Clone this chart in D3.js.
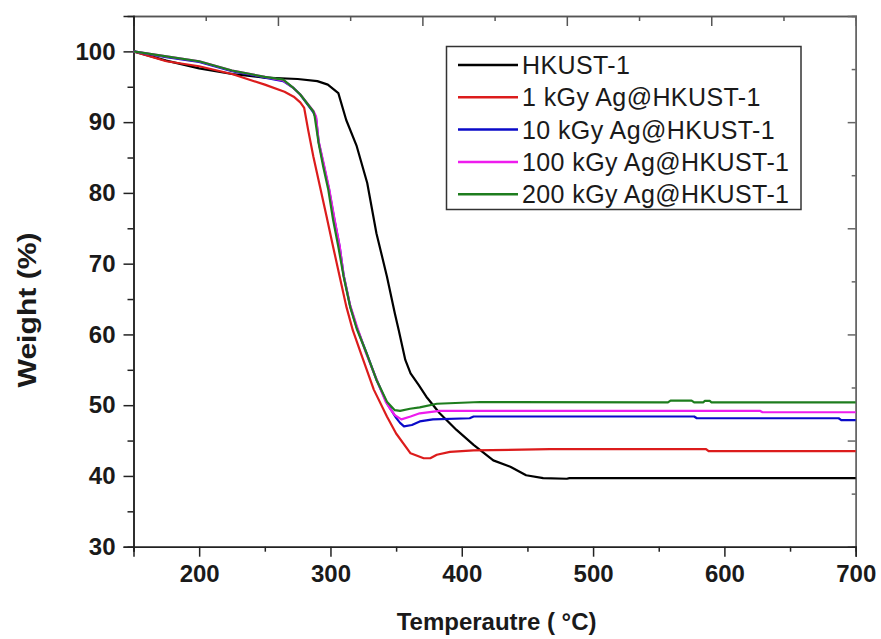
<!DOCTYPE html>
<html>
<head>
<meta charset="utf-8">
<script src="https://cdn.jsdelivr.net/npm/d3@7"></script>
<style>
  body { margin: 0; background: #fff; }
  text { font-family: "Liberation Sans", Arial, sans-serif; fill: #1a1a1a; }
</style>
</head>
<body>
<script>
// TGA curves, temperature (°C) vs weight (%)
const hkust = [[150,100],[175,98.7],[200,97.6],[225,96.8],[250,96.3],[275,96.1],[290,95.8],[298,95.3],[306,94.1],[312,90.3],[320,86.6],[328,81.4],[335,74.3],[343,68.2],[349,63.0],[352,60.6],[357,56.4],[361,54.5],[367,52.9],[373,51.2],[383,48.9],[396,46.5],[409,44.4],[424,42.2],[437,41.3],[449,40.1],[462,39.7],[480,39.6],[482,39.7],[700,39.7]];
const ag1 = [[150,100],[175,98.6],[200,97.9],[225,96.8],[250,95.3],[265,94.3],[272,93.6],[277,92.8],[280,92.0],[283,88.9],[287,85.1],[292,80.9],[297,76.7],[302,72.4],[307,68.2],[312,64.0],[317,60.6],[324,56.9],[333,52.2],[343,48.4],[350,46.0],[361,43.2],[371,42.5],[376,42.5],[381,43.0],[391,43.4],[409,43.6],[467,43.8],[586,43.8],[588,43.5],[700,43.5]];
const ag10 = [[150,100],[175,99.2],[200,98.5],[225,97.2],[250,96.3],[264,95.8],[272,94.8],[277,93.9],[287,91.4],[289,90.6],[291,87.2],[295,83.8],[299,80.4],[303,76.2],[307,72.4],[310,68.4],[315,64.0],[320,61.0],[328,57.1],[335,53.6],[343,50.3],[350,48.2],[353,47.5],[356,47.0],[362,47.2],[368,47.7],[378,48.0],[406,48.15],[409,48.4],[577,48.4],[579,48.15],[687,48.15],[689,47.9],[700,47.9]];
const ag100 = [[150,100],[175,99.3],[200,98.6],[225,97.3],[250,96.4],[264,95.9],[272,94.8],[277,93.9],[287,91.6],[289,90.8],[291,87.3],[295,84.0],[299,80.6],[303,76.4],[307,72.5],[310,68.4],[315,64.1],[320,61.2],[327,57.4],[335,53.7],[342,50.5],[345,49.6],[349,48.6],[354,48.0],[361,48.4],[368,48.85],[383,49.2],[627,49.2],[629,49.0],[700,49.0]];
const ag200 = [[150,100],[175,99.3],[200,98.6],[225,97.3],[250,96.4],[264,96.0],[272,94.8],[277,93.9],[287,91.5],[288,90.8],[291,87.0],[294.5,83.7],[298.4,80.4],[302,76.2],[306,72.4],[310,68.2],[315,63.9],[320,60.8],[327.6,57.3],[335,53.6],[343,50.5],[349,49.3],[353,49.2],[360.6,49.5],[368,49.7],[381,50.2],[414,50.45],[557,50.4],[559,50.65],[575,50.65],[577,50.4],[584,50.4],[585,50.6],[589,50.6],[590,50.4],[700,50.4]];

const seriesNames = ["HKUST-1", "1 kGy Ag@HKUST-1", "10 kGy Ag@HKUST-1", "100 kGy Ag@HKUST-1", "200 kGy Ag@HKUST-1"];
const seriesData = [hkust, ag1, ag10, ag100, ag200];
const seriesColors = ["#000000", "#dc1c1c", "#0a0ac8", "#ee1cee", "#1e7d1e"];

const xMajor = [200, 300, 400, 500, 600, 700];
const xMinor = [150, 250, 350, 450, 550, 650];
const yMajor = [30, 40, 50, 60, 70, 80, 90, 100];
const yMinor = [35, 45, 55, 65, 75, 85, 95];
const topMajor = [260, 370, 480, 590];
const topMinor = [205, 315, 425, 535, 645];
const rightMajor = [45, 60, 75, 90];
const rightMinor = [37.5, 52.5, 67.5, 82.5, 97.5];

const W = 881, H = 639;
const m = { left: 133.5, right: 855.7, top: 16, bottom: 546.7 };

const svg = d3.select("body").append("svg").attr("width", W).attr("height", H);

const x = d3.scaleLinear().domain([150, 700]).range([m.left, m.right]);
const y = d3.scaleLinear().domain([30, 105]).range([m.bottom, m.top]);

const styleAxis = (g, col) => {
    g.select(".domain").attr("stroke", col).attr("stroke-width", 1.5);
    g.selectAll(".tick line").attr("stroke", col).attr("stroke-width", 1.5);
    g.selectAll(".tick text").attr("font-size", 24).attr("font-weight", "bold")
        .attr("font-family", "'Liberation Sans', Arial, sans-serif").attr("fill", "#1a1a1a");
};

// frame: top and right (inward ticks, lighter)
svg.append("g").attr("transform", `translate(0,${m.top})`)
    .call(d3.axisTop(x).tickValues(topMajor).tickSize(-10).tickFormat(""))
    .call(g => styleAxis(g, "#555"));
svg.append("g").attr("transform", `translate(0,${m.top})`)
    .call(d3.axisTop(x).tickValues(topMinor).tickSize(-5).tickFormat(""))
    .call(g => styleAxis(g, "#555"));
svg.append("g").attr("transform", `translate(${m.right},0)`)
    .call(d3.axisRight(y).tickValues(rightMajor).tickSize(-8).tickFormat(""))
    .call(g => styleAxis(g, "#666"));
svg.append("g").attr("transform", `translate(${m.right},0)`)
    .call(d3.axisRight(y).tickValues(rightMinor).tickSize(-4).tickFormat(""))
    .call(g => styleAxis(g, "#666"));

// bottom / left
svg.append("g").attr("transform", `translate(0,${m.bottom})`)
    .call(d3.axisBottom(x).tickValues(xMinor).tickSize(5).tickFormat(""))
    .call(g => styleAxis(g, "#222"));
svg.append("g").attr("transform", `translate(0,${m.bottom})`)
    .call(d3.axisBottom(x).tickValues(xMajor).tickSize(10).tickPadding(8).tickFormat(d3.format("d")))
    .call(g => styleAxis(g, "#222"));
svg.append("g").attr("transform", `translate(${m.left},0)`)
    .call(d3.axisLeft(y).tickValues(yMinor).tickSize(6).tickFormat(""))
    .call(g => styleAxis(g, "#222"));
svg.append("g").attr("transform", `translate(${m.left},0)`)
    .call(d3.axisLeft(y).tickValues(yMajor).tickSize(10).tickPadding(8).tickFormat(d3.format("d")))
    .call(g => styleAxis(g, "#222"));

// curves
const line = d3.line().x(d => x(d[0])).y(d => y(d[1]));
svg.append("g").selectAll("path")
    .data(seriesData)
    .enter()
    .append("path")
    .attr("d", line)
    .attr("fill", "none")
    .attr("stroke", (d, i) => seriesColors[i])
    .attr("stroke-width", 2.2)
    .attr("stroke-linejoin", "round");

// axis titles
svg.append("text")
    .attr("x", (m.left + m.right) / 2 + 2).attr("y", 630)
    .attr("text-anchor", "middle").attr("font-size", 24).attr("font-weight", "bold")
    .text("Temperautre ( °C)");
svg.append("text")
    .attr("transform", "translate(36,310) rotate(-90)")
    .attr("text-anchor", "middle").attr("font-size", 25).attr("font-weight", "bold")
    .attr("textLength", 155).attr("lengthAdjust", "spacingAndGlyphs")
    .text("Weight (%)");

// legend
const lg = svg.append("g");
lg.append("rect")
    .attr("x", 446.5).attr("y", 46.5).attr("width", 354.5).attr("height", 163)
    .attr("fill", "#fff").attr("stroke", "#333").attr("stroke-width", 1.5);
const rows = lg.selectAll(".row")
    .data(seriesNames)
    .enter()
    .append("g")
    .attr("transform", (d, i) => `translate(458,${65 + i * 32.3})`);
rows.append("line")
    .attr("x1", 0).attr("x2", 60)
    .attr("stroke", (d, i) => seriesColors[i]).attr("stroke-width", 2.5);
rows.append("text")
    .attr("x", 64).attr("y", 9)
    .attr("font-size", 25).attr("letter-spacing", 0.4)
    .text(d => d);
</script>
</body>
</html>
